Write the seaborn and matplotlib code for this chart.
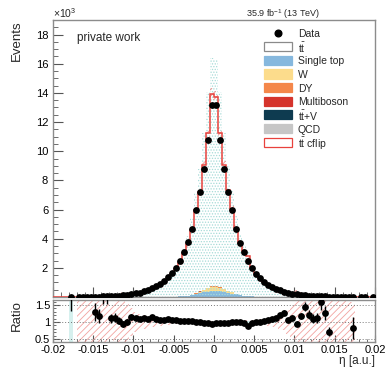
import numpy as np
import pandas as pd
import matplotlib
matplotlib.use("Agg")
import matplotlib.pyplot as plt
import seaborn as sns
from matplotlib.patches import Rectangle
from matplotlib.ticker import MultipleLocator, FixedLocator, FixedFormatter

# ---------------- binning ----------------
x_min, x_max, n_bins = -0.02, 0.02, 80

# ---------------- data (events per bin) ----------------
data = [0, 0, 0, 0, 4, 0, 8, 12, 16, 20,
        26, 32, 40, 50, 62, 80, 100, 125, 160, 200,
        250, 310, 390, 480, 590, 730, 900, 1100, 1350, 1650,
        2000, 2450, 3100, 3750, 4700, 6000, 7200, 8800, 10800, 13200,
        13200, 10800, 8800, 7200, 6000, 4700, 3700, 3100, 2500, 2000,
        1600, 1300, 1060, 860, 700, 570, 460, 370, 300, 240,
        190, 150, 118, 95, 75, 60, 48, 38, 30, 24,
        19, 15, 12, 9, 6, 0, 4, 3, 0, 3]

tt = [0]*36 + [10, 15, 20, 25, 25, 20, 15, 10] + [0]*36
single_top = [0]*30 + [20, 40, 60, 90, 130, 180, 250, 300, 350, 400,
                       390, 360, 320, 280, 240, 190, 140, 90, 60, 40, 20] + [0]*29
w_jets = [0]*33 + [10, 30, 60, 100, 150, 220, 280, 300, 250, 190, 130, 80, 50, 25, 10] + [0]*32
dy = [0]*35 + [10, 15, 20, 30, 35, 35, 30, 20, 15, 10] + [0]*35
multiboson = [0]*36 + [5, 8, 10, 12, 12, 10, 8, 5] + [0]*36
ttv = [0]*37 + [3, 5, 6, 6, 5, 3] + [0]*37
qcd = [0]*38 + [5, 8, 8, 5] + [0]*38
tt_cflip = [0, 0, 0, 0, 1.5, 1, 3, 5, 6, 9,
            20, 27, 22, 28, 56, 71, 96, 133, 160, 174,
            223, 287, 348, 444, 518, 664, 849, 1038, 1250, 1557,
            1885, 2316, 2950, 3541, 4448, 5691, 6820, 8576, 10610, 13134,
            12974, 10570, 8514, 6910, 5730, 4510, 3575, 3060, 2750, 2020,
            1596, 1300, 1029, 819, 648, 509, 377, 289, 286, 214,
            200, 127, 81, 78, 68, 54, 30, 30, 42, 0,
            0, 0, 0, 0, 7.3, 0, 0, 0, 0, 0]

# relative uncertainties
syst_unc = ([0]*6 + [1.5]*8 +
            [0.5, 0.7, 1.5, 1.5, 0.6, 0.4, 0.3, 0.25, 0.2, 0.2,
             0.15, 0.15, 0.12, 0.1, 0.1, 0.08, 0.07, 0.06, 0.05, 0.05,
             0.04, 0.04, 0.03, 0.03, 0.03, 0.03, 0.03, 0.03, 0.03, 0.03,
             0.04, 0.04, 0.05, 0.05, 0.06, 0.06, 0.07, 0.08, 0.1, 0.12,
             0.15, 0.18, 0.2, 0.25, 0.35, 0.5] +
            [1.5]*14 + [0.6] + [0]*5)
mc_up = ([0]*4 + [1.5] + [0.05]*25 +
         [0.08, 0.1, 0.12, 0.15, 0.18, 0.2, 0.22, 0.24, 0.25, 0.18,
          0.18, 0.25, 0.24, 0.22, 0.2, 0.18, 0.15, 0.12, 0.1, 0.08] + [0.05]*30)
stat_ratio = [0]*4 + [1.5] + [0]*20 + [0.04]*31 + [0]*24

legend_labels = ["Data", r"$\mathrm{t\bar{t}}$", "Single top", "W", "DY", "Multiboson",
                 r"$\mathrm{t\bar{t}}$+V", "QCD", r"$\mathrm{t\bar{t}}$ cflip"]
x_ticks = [-0.02, -0.015, -0.01, -0.005, 0, 0.005, 0.01, 0.015, 0.02]
x_ticklabels = ["-0.02", "-0.015", "-0.01", "-0.005", "0", "0.005", "0.01", "0.015", "0.02"]
y_ticks = [2000, 4000, 6000, 8000, 10000, 12000, 14000, 16000, 18000]
y_ticklabels = ["2", "4", "6", "8", "10", "12", "14", "16", "18"]
r_ticks = [0.5, 1.0, 1.5]
r_ticklabels = ["0.5", "1", "1.5"]

# ---------------- style ----------------
sns.set_theme(style="ticks")
plt.rcParams["font.family"] = ["Liberation Sans", "DejaVu Sans"]
plt.rcParams["mathtext.fontset"] = "custom"
plt.rcParams["mathtext.rm"] = "Liberation Sans"
plt.rcParams["mathtext.it"] = "Liberation Sans:italic"
plt.rcParams["axes.unicode_minus"] = False
plt.rcParams["hatch.linewidth"] = 0.6

edges = np.linspace(x_min, x_max, n_bins + 1)
centers = 0.5 * (edges[:-1] + edges[1:])
half_w = 0.5 * (edges[1] - edges[0])
data = np.array(data, float)

RED = "#e8423d"
stack = [  # (values, face, edge)
    (np.array(tt, float), "white", "#8a8a8a"),
    (np.array(single_top, float), "#86b8de", "#86b8de"),
    (np.array(w_jets, float), "#fcdc8c", "#fcdc8c"),
    (np.array(dy, float), "#f4874a", "#f4874a"),
    (np.array(multiboson, float), "#d5342c", "#d5342c"),
    (np.array(ttv, float), "#0e3b50", "#0e3b50"),
    (np.array(qcd, float), "#c6c6c6", "#c6c6c6"),
]
cflip = np.array(tt_cflip, float)

fig = plt.figure(figsize=(3.86, 3.76), dpi=100)
ax = fig.add_axes([0.1373, 0.210, 0.8342, 0.7368])
rax = fig.add_axes([0.1373, 0.0904, 0.8342, 0.1117])

base = np.zeros(n_bins)
for vals, fc, ec in stack:
    top = base + vals
    ax.stairs(top, edges, baseline=base, fill=True, facecolor=fc, edgecolor="none", zorder=1)
    base = top
bkg_total = base.copy()
total = bkg_total + cflip
ax.stairs(total, edges, baseline=bkg_total, fill=True, facecolor="white", edgecolor="none", zorder=1)

# teal MC band
ax.stairs(total * (1 + np.array(mc_up)), edges, baseline=0, fill=True,
          facecolor="none", edgecolor="#a6dbd7", hatch="......", linewidth=0, zorder=2)
# red hatched systematic band
su = np.array(syst_unc)
ax.stairs(total * (1 + su), edges, baseline=np.clip(total * (1 - su), 0, None), fill=True,
          facecolor="none", edgecolor="#ef8f8b", hatch="/////", linewidth=0, zorder=3)
ax.stairs(stack[0][0], edges, baseline=None, color=stack[0][2], lw=0.8, zorder=3)
ax.stairs(total, edges, baseline=None, color=RED, lw=1.1, zorder=4)

# data points
m = data > 0
ax.errorbar(centers[m], data[m], xerr=half_w, yerr=np.sqrt(data[m]), fmt="none",
            ecolor="black", elinewidth=1.0, capsize=0, zorder=5)
sns.scatterplot(x=centers[m], y=data[m], ax=ax, color="black", s=24, linewidth=0, zorder=6)

ax.set_xlim(x_min, x_max)
ax.set_ylim(0, 19000)
ax.yaxis.set_major_locator(FixedLocator(y_ticks))
ax.yaxis.set_major_formatter(FixedFormatter(y_ticklabels))
ax.yaxis.set_minor_locator(MultipleLocator(500))
ax.xaxis.set_major_locator(FixedLocator(x_ticks))
ax.xaxis.set_minor_locator(MultipleLocator(0.001))
ax.set_xticklabels([])
ax.tick_params(which="both", direction="in", top=False, right=False, colors="#555555",
               labelcolor="black", labelsize=8)
ax.tick_params(which="major", length=7, width=0.8)
ax.tick_params(which="minor", length=3.5, width=0.6)

# legend (manual, uniform rows)
faces = ["white"] + [fc for _, fc, _ in stack[1:]] + ["white"]
edgec = ["#8a8a8a"] + [fc for _, fc, _ in stack[1:]] + [RED]
row_step = 13.6 / 276.0
y0 = 1 - (33 - 20) / 276.0
hx0 = (264 - 53) / 322.0
hw = 28 / 322.0
hh = 9 / 276.0
tx = (298 - 53) / 322.0
for k, lab in enumerate(legend_labels):
    yc = y0 - k * row_step
    if k == 0:
        ax.plot([hx0 + hw / 2], [yc], marker="o", color="black", ms=4.8,
                transform=ax.transAxes, clip_on=False, zorder=7)
    else:
        ax.add_patch(Rectangle((hx0, yc - hh / 2), hw, hh, transform=ax.transAxes,
                               facecolor=faces[k - 1], edgecolor=edgec[k - 1], lw=0.9,
                               zorder=7, clip_on=False))
    ax.text(tx, yc, lab, transform=ax.transAxes, ha="left", va="center_baseline",
            fontsize=7.5, zorder=7)

# ratio panel
mc_ok = (total > 0) & m
ratio = data[mc_ok] / total[mc_ok]
rerr = np.sqrt(data[mc_ok]) / total[mc_ok]
sr = np.array(stat_ratio)
rax.stairs(1 + sr, edges, baseline=1 - sr, fill=True, facecolor="#d6f0ee",
           edgecolor="none", zorder=1)
rax.stairs(1 + su, edges, baseline=1 - su, fill=True, facecolor="none",
           edgecolor="#f2a3a0", hatch="/////", linewidth=0, zorder=2)
for yv in r_ticks:
    rax.axhline(yv, color="#777777", ls=(0, (1, 2)), lw=0.7, zorder=3)
rax.errorbar(centers[mc_ok], ratio, xerr=half_w, yerr=rerr, fmt="none",
             ecolor="black", elinewidth=1.0, capsize=0, zorder=4)
sns.scatterplot(x=centers[mc_ok], y=ratio, ax=rax, color="black", s=24, linewidth=0, zorder=5)
rax.set_xlim(x_min, x_max)
rax.set_ylim(0.41, 1.65)
rax.yaxis.set_major_locator(FixedLocator(r_ticks))
rax.yaxis.set_major_formatter(FixedFormatter(r_ticklabels))
rax.yaxis.set_minor_locator(MultipleLocator(0.1))
rax.xaxis.set_major_locator(FixedLocator(x_ticks))
rax.xaxis.set_major_formatter(FixedFormatter(x_ticklabels))
rax.xaxis.set_minor_locator(MultipleLocator(0.001))
rax.tick_params(which="both", direction="in", top=False, right=False, colors="#555555",
                labelcolor="black", labelsize=8, pad=2)
rax.tick_params(which="major", length=5, width=0.8)
rax.tick_params(which="minor", length=2.5, width=0.6)

for a in (ax, rax):
    for s in a.spines.values():
        s.set_color("#8c8c8c")
        s.set_linewidth(1.0)

# texts
fig.text(0.045, 0.947, "Events", rotation=90, ha="center", va="top", fontsize=9.5)
fig.text(0.045, 0.160, "Ratio", rotation=90, ha="center", va="center", fontsize=9.5)
fig.text(0.137, 0.965, r"$\times10^{3}$", ha="left", va="center", fontsize=7.5)
fig.text(0.200, 0.899, "private work", ha="left", va="center", fontsize=8.5)
fig.text(0.830, 0.962, r"35.9 fb$^{-1}$ (13 TeV)", ha="right", va="center", fontsize=6.5)
fig.text(0.9715, 0.040, "η [a.u.]", ha="right", va="center", fontsize=8.5)

fig.savefig("out.png", dpi=100)
